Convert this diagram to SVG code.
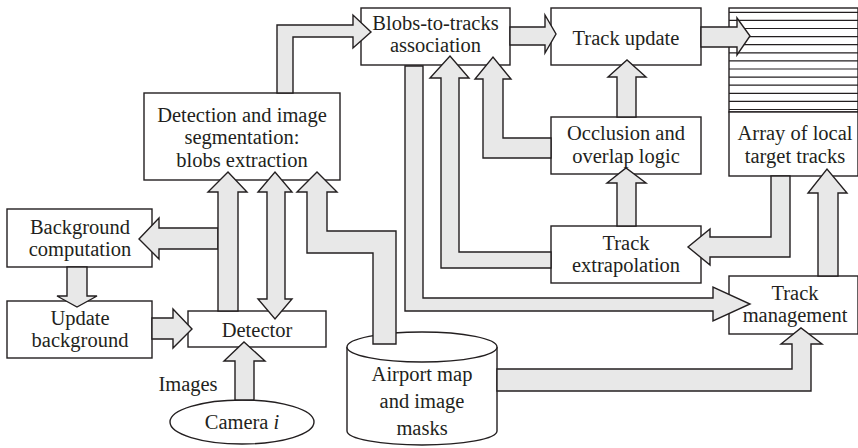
<svg xmlns="http://www.w3.org/2000/svg" width="858" height="448" viewBox="0 0 858 448">
<style>
.box{fill:#fff;stroke:#231f20;stroke-width:1.4}
.arr{fill:#e8e8e8;stroke:#231f20;stroke-width:1.4;stroke-linejoin:miter}
.ln{stroke:#231f20;stroke-width:1.2;fill:none}
text{font-family:"Liberation Serif","Times New Roman",serif;font-size:20.5px;fill:#231f20;text-anchor:middle}
</style>
<rect width="858" height="448" fill="#fff"/>
<g id="blobs"><rect class="box" x="361" y="8" width="149" height="57"/><text x="435.5" y="30">Blobs-to-tracks</text><text x="435.5" y="52">association</text></g>
<g id="trackupdate"><rect class="box" x="551" y="8" width="150" height="57"/><text x="626" y="45">Track update</text></g>
<g id="array"><rect class="box" x="729" y="8" width="129" height="104"/>
<g class="ln"><path d="M729 12.3H858M729 20.4H858M729 28.5H858M729 36.6H858M729 44.7H858M729 52.8H858M729 60.9H858M729 69H858M729 77.1H858M729 85.2H858M729 93.3H858M729 101.4H858M729 109.5H858"/></g>
<rect class="box" x="729" y="112" width="129" height="64"/><text x="795" y="140">Array of local</text><text x="795" y="163">target tracks</text></g>
<g id="occlusion"><rect class="box" x="551" y="117" width="150" height="57"/><text x="626" y="140">Occlusion and</text><text x="626" y="163">overlap logic</text></g>
<g id="extrapolation"><rect class="box" x="551" y="226" width="150" height="57"/><text x="626" y="250">Track</text><text x="626" y="272">extrapolation</text></g>
<g id="management"><rect class="box" x="729" y="276" width="129" height="58"/><text x="795" y="300">Track</text><text x="795" y="322">management</text></g>
<g id="detection"><rect class="box" x="144" y="93" width="196" height="87"/><text x="242" y="122">Detection and image</text><text x="242" y="144">segmentation:</text><text x="242" y="167">blobs extraction</text></g>
<g id="bgcomp"><rect class="box" x="7" y="209" width="145" height="58"/><text x="80" y="234">Background</text><text x="80" y="256">computation</text></g>
<g id="updatebg"><rect class="box" x="7" y="301" width="145" height="57"/><text x="80" y="325">Update</text><text x="80" y="347">background</text></g>
<g id="detector"><rect class="box" x="188" y="311" width="138" height="36"/><text x="257" y="337">Detector</text></g>
<g id="camera"><ellipse class="box" cx="242" cy="422" rx="72" ry="22"/><text x="242" y="429">Camera <tspan font-style="italic">i</tspan></text></g>
<g id="images-label"><text x="188" y="391">Images</text></g>
<g id="airport"><path class="box" d="M347 347V431A75 14 0 0 0 497 431V347"/><ellipse class="box" cx="422" cy="347" rx="75" ry="15"/><text x="422" y="381">Airport map</text><text x="422" y="408">and image</text><text x="422" y="435">masks</text></g>
<g id="connectors">
<path class="arr" d="M277 93V25H353V15L371 32L353 48V37H293V93Z"/>
<path class="arr" d="M510 27H545V15L556 34L545 53V45H510Z"/>
<path class="arr" d="M701 27H737V18L750 36L737 55V47H701Z"/>
<path class="arr" d="M617 117V77H608L627 60L646 77H636V117Z"/>
<path class="arr" d="M551 158H483V79H475L493 57L511 79H503V138H551Z"/>
<path class="arr" d="M617 226V183H607L626 168L646 183H636V226Z"/>
<path class="arr" d="M551 268H441V78H430L450 56L469 78H459V252H551Z"/>
<path class="arr" d="M405 66V311H713V321L750 304L713 287V298H423V66Z"/>
<path class="arr" d="M771 176V237H710V229L688 247L710 265V257H790V176Z"/>
<path class="arr" d="M818 276V193H808L827 169L847 193H838V276Z"/>
<path class="arr" d="M497 369H792V344H781L801 328L822 344H811V391H497Z"/>
<path class="arr" d="M396 344V231H327V192H337L317 172L297 192H307V253H373V344Z"/>
<path class="arr" d="M218 228H159V218L139 239L159 259V249H218Z"/>
<path class="arr" d="M218 311V192H208L228 172L247 192H238V311Z"/>
<path class="arr" d="M267 192H258L275 172L292 192H285V299H292L275 319L258 299H267Z"/>
<path class="arr" d="M67 267V296H57L77 307L97 296H87V267Z"/>
<path class="arr" d="M152 318H173V309L192 329L173 348V339H152Z"/>
<path class="arr" d="M235 400V361H224L244 342L265 361H254V400Z"/>
</g>
</svg>
